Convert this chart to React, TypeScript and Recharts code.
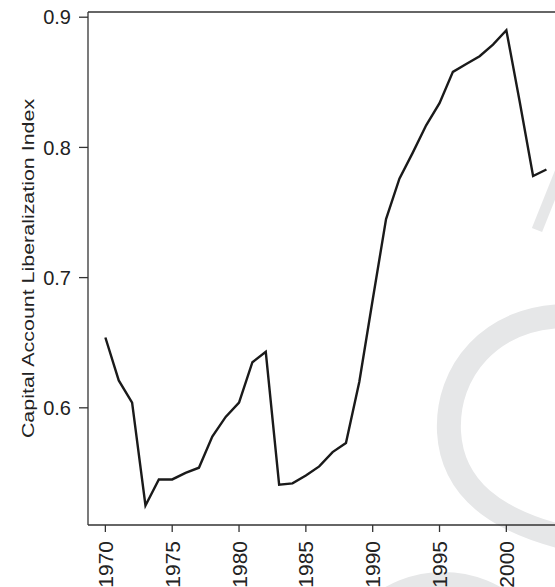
import React from "react";
import {
  LineChart,
  Line,
  XAxis,
  YAxis,
  ReferenceLine,
} from "recharts";

const YEARS = [
  1970, 1971, 1972, 1973, 1974, 1975, 1976, 1977, 1978, 1979, 1980, 1981,
  1982, 1983, 1984, 1985, 1986, 1987, 1988, 1989, 1990, 1991, 1992, 1993,
  1994, 1995, 1996, 1997, 1998, 1999, 2000, 2001, 2002, 2003,
];

const INDEX = [
  0.654, 0.621, 0.604, 0.525, 0.545, 0.545, 0.55, 0.554, 0.578, 0.593, 0.604,
  0.635, 0.643, 0.541, 0.542, 0.548, 0.555, 0.566, 0.573, 0.62, 0.683, 0.745,
  0.776, 0.796, 0.817, 0.834, 0.858, 0.864, 0.87, 0.879, 0.89, 0.835, 0.778,
  0.783,
];

const X_TICKS = [1970, 1975, 1980, 1985, 1990, 1995, 2000];
const Y_TICKS = [0.6, 0.7, 0.8, 0.9];
const Y_LABEL = "Capital Account Liberalization Index";

const data = YEARS.map((year, i) => ({ year, value: INDEX[i] }));

const FONT = "'Liberation Sans', Arial, Helvetica, sans-serif";
const AXIS = "#333333";

function XTick({ x, y, payload }: any) {
  return (
    <text
      x={0}
      y={0}
      transform={`translate(${x},${y}) rotate(-90)`}
      textAnchor="end"
      dy="0.36em"
      fontSize={21}
      fontFamily={FONT}
      fill="#222"
    >
      {payload.value}
    </text>
  );
}

// light grey watermark behind the plot
function Watermark() {
  return (
    <svg
      width={555}
      height={587}
      style={{ position: "absolute", left: 0, top: 0 }}
    >
      <g fill="none" stroke="#e6e7e8">
        <path
          d="M 568 316 C 490 316, 446 372, 449 432 C 452 486, 492 522, 575 540"
          strokeWidth={24}
        />
        <path d="M 537 230 L 565 160" strokeWidth={11} />
        <circle cx={443} cy={690} r={105} strokeWidth={26} />
      </g>
    </svg>
  );
}

// axis title, drawn a bit taller than wide like the scanned original
function YTitle() {
  return (
    <svg
      width={60}
      height={587}
      style={{ position: "absolute", left: 0, top: 0 }}
    >
      <text
        transform="translate(28,268.5) scale(1,1.26) rotate(-90)"
        textAnchor="middle"
        dominantBaseline="central"
        fontSize={17}
        fontFamily={FONT}
        fill="#222"
      >
        {Y_LABEL}
      </text>
    </svg>
  );
}

export default function App() {
  return (
    <div
      style={{
        position: "absolute",
        left: 0,
        top: 0,
        width: 555,
        height: 587,
        background: "#fff",
        overflow: "hidden",
      }}
    >
      <Watermark />
      <div style={{ position: "absolute", left: 0, top: 0 }}>
        <LineChart
          width={555}
          height={587}
          data={data}
          margin={{ top: 12, right: 0, bottom: 0, left: 0 }}
        >
          <XAxis
            dataKey="year"
            type="number"
            domain={[1968.7, 2003.64]}
            ticks={X_TICKS}
            allowDataOverflow
            height={62}
            stroke={AXIS}
            strokeWidth={1.3}
            tickSize={7}
            tickMargin={9}
            tick={<XTick />}
          />
          <YAxis
            type="number"
            domain={[0.51, 0.904]}
            ticks={Y_TICKS}
            allowDataOverflow
            width={88}
            stroke={AXIS}
            strokeWidth={1.3}
            tickSize={9}
            tickMargin={8}
            tickFormatter={(v: number) => v.toFixed(1)}
            tick={{ fontSize: 20, fontFamily: FONT, fill: "#222" }}
          />
          <ReferenceLine y={0.904} stroke={AXIS} strokeWidth={1.3} />
          <Line
            type="linear"
            dataKey="value"
            stroke="#1a1a1a"
            strokeWidth={2.4}
            dot={false}
            isAnimationActive={false}
          />
        </LineChart>
      </div>
      <YTitle />
    </div>
  );
}
